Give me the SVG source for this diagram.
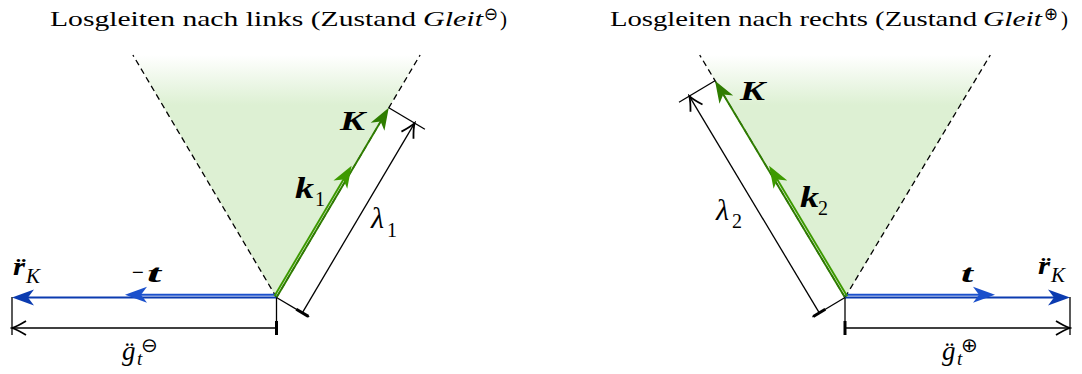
<svg xmlns="http://www.w3.org/2000/svg" width="1082" height="374" viewBox="0 0 1082 374">
<style>
.t{font-family:"Liberation Serif","Times New Roman",serif;fill:#000}
.ti{font-family:"Liberation Serif","Times New Roman",serif;font-style:italic;fill:#000}
.tb{font-family:"Liberation Serif","Times New Roman",serif;font-style:italic;font-weight:bold;fill:#000}
.sym{font-family:"DejaVu Sans",sans-serif;fill:#000}
.dash{stroke:#000;stroke-width:1.3;stroke-dasharray:6 4;fill:none}
.thin{stroke:#000;stroke-width:1.3;fill:none}
.dim{stroke:#000;stroke-width:1.3;fill:none;marker-end:url(#open)}
.bar{stroke:#000;stroke-width:3;fill:none}
.vk{stroke:#2f7d00;stroke-width:1.9;fill:none;marker-end:url(#hK)}
.vk1{stroke:#3d9a00;stroke-width:1.9;fill:none;marker-end:url(#hk)}
.vr{stroke:#0b3bb0;stroke-width:1.9;fill:none;marker-end:url(#hr)}
.vt{stroke:#1b50cc;stroke-width:1.9;fill:none;marker-end:url(#ht)}
</style>
<defs>
<linearGradient id="fade" x1="0" y1="55" x2="0" y2="105" gradientUnits="userSpaceOnUse">
<stop offset="0" stop-color="#ddf0d3" stop-opacity="0"/>
<stop offset="1" stop-color="#ddf0d3" stop-opacity="1"/>
</linearGradient>
<marker id="hK" viewBox="-24 -9 26 18" refX="-6" refY="0" markerWidth="26" markerHeight="18" markerUnits="userSpaceOnUse" orient="auto"><path d="M0,0 L-22,-8 L-16,0 L-22,8 Z" fill="#2f7d00"/></marker>
<marker id="hk" viewBox="-24 -9 26 18" refX="-6" refY="0" markerWidth="26" markerHeight="18" markerUnits="userSpaceOnUse" orient="auto"><path d="M0,0 L-22,-8 L-16,0 L-22,8 Z" fill="#3d9a00"/></marker>
<marker id="hr" viewBox="-24 -9 26 18" refX="-6" refY="0" markerWidth="26" markerHeight="18" markerUnits="userSpaceOnUse" orient="auto"><path d="M0,0 L-22,-8 L-16,0 L-22,8 Z" fill="#0b3bb0"/></marker>
<marker id="ht" viewBox="-24 -9 26 18" refX="-6" refY="0" markerWidth="26" markerHeight="18" markerUnits="userSpaceOnUse" orient="auto"><path d="M0,0 L-22,-8 L-16,0 L-22,8 Z" fill="#1b50cc"/></marker>
<marker id="open" viewBox="-17 -9 19 18" refX="0" refY="0" markerWidth="19" markerHeight="18" markerUnits="userSpaceOnUse" orient="auto"><path d="M-14,-7 Q-5,-1.5 0,0 Q-5,1.5 -14,7" fill="none" stroke="#000" stroke-width="1.8"/></marker>
</defs>
<rect width="1082" height="374" fill="#fff"/>

<g id="cone-left">
<polygon points="276.5,297.5 132.9,55 420.1,55" fill="url(#fade)"/>
<line class="dash" x1="276.5" y1="297.5" x2="132.9" y2="55"/>
<line class="dash" x1="276.5" y1="297.5" x2="420.1" y2="55"/>
</g>
<g id="cone-right">
<polygon points="845,297.5 699.7,55 990.3,55" fill="url(#fade)"/>
<line class="dash" x1="845" y1="297.5" x2="699.7" y2="55"/>
<line class="dash" x1="845" y1="297.5" x2="990.3" y2="55"/>
</g>

<g id="title-left">
<text class="t" x="50" y="26" font-size="21" textLength="366" lengthAdjust="spacingAndGlyphs">Losgleiten nach links (Zustand</text>
<text class="ti" x="423" y="26" font-size="21" textLength="60" lengthAdjust="spacingAndGlyphs">Gleit</text>
<text class="sym" x="484" y="20" font-size="18" textLength="14" lengthAdjust="spacingAndGlyphs">⊖</text>
<text class="t" x="500" y="26" font-size="21">)</text>
</g>
<g id="title-right">
<text class="t" x="610" y="26" font-size="21" textLength="367" lengthAdjust="spacingAndGlyphs">Losgleiten nach rechts (Zustand</text>
<text class="ti" x="983" y="26" font-size="21" textLength="59" lengthAdjust="spacingAndGlyphs">Gleit</text>
<text class="sym" x="1044" y="20" font-size="18" textLength="14" lengthAdjust="spacingAndGlyphs">⊕</text>
<text class="t" x="1061" y="26" font-size="21">)</text>
</g>

<g id="connectors">
<line class="vr" x1="276.5" y1="297.5" x2="18" y2="297.5"/>
<line class="vt" x1="276.5" y1="294.7" x2="131" y2="294.7"/>
<line class="vk" x1="276.5" y1="297.5" x2="385.7" y2="113"/>
<line class="vk1" x1="274.3" y1="296.2" x2="348.5" y2="170.9"/>
<line class="thin" x1="12" y1="297" x2="12" y2="335"/>
<line class="thin" x1="276.5" y1="298" x2="276.5" y2="335"/>
<line class="dim" x1="276.5" y1="328" x2="12" y2="328"/>
<line class="bar" x1="276.5" y1="321" x2="276.5" y2="335"/>
<line class="thin" x1="276.5" y1="297.5" x2="309.2" y2="316.9"/>
<line class="thin" x1="388.8" y1="107.8" x2="424.9" y2="129.2"/>
<line class="dim" x1="302.3" y1="312.8" x2="414.6" y2="123.1"/>
<line class="bar" x1="296.3" y1="309.2" x2="308.3" y2="316.4"/>
<line class="vr" x1="845" y1="297.5" x2="1064" y2="297.5"/>
<line class="vt" x1="845" y1="294.7" x2="989" y2="294.7"/>
<line class="vk" x1="845" y1="297.5" x2="718.1" y2="85.8"/>
<line class="vk1" x1="847.2" y1="296.2" x2="772.2" y2="171"/>
<line class="thin" x1="1070" y1="297" x2="1070" y2="335"/>
<line class="thin" x1="845" y1="298" x2="845" y2="335"/>
<line class="dim" x1="845" y1="328" x2="1070" y2="328"/>
<line class="bar" x1="845" y1="321" x2="845" y2="335"/>
<line class="thin" x1="845" y1="297.5" x2="812.4" y2="317"/>
<line class="thin" x1="715" y1="80.7" x2="679" y2="102.3"/>
<line class="dim" x1="819.3" y1="312.9" x2="689.3" y2="96.1"/>
<line class="bar" x1="825.3" y1="309.3" x2="813.3" y2="316.5"/>
</g>

<g id="labels-left">
<text class="tb" x="340" y="130" font-size="27" textLength="25" lengthAdjust="spacingAndGlyphs">K</text>
<text class="tb" x="295" y="198" font-size="29" textLength="19" lengthAdjust="spacingAndGlyphs">k</text>
<text class="t" x="315" y="206" font-size="20">1</text>
<text class="ti" x="371" y="228" font-size="30">λ</text>
<text class="t" x="387" y="237" font-size="20">1</text>
<text class="tb" x="13" y="275" font-size="25" textLength="12" lengthAdjust="spacingAndGlyphs">r̈</text>
<text class="ti" x="26" y="283" font-size="20" textLength="14" lengthAdjust="spacingAndGlyphs">K</text>
<text class="t" x="132" y="281" font-size="26" textLength="12" lengthAdjust="spacingAndGlyphs">−</text>
<text class="tb" x="147" y="282" font-size="26" textLength="14" lengthAdjust="spacingAndGlyphs">t</text>
<text class="ti" x="122" y="360" font-size="27">g̈</text>
<text class="ti" x="137" y="365" font-size="19">t</text>
<text class="sym" x="141" y="352" font-size="20">⊖</text>
</g>
<g id="labels-right">
<text class="tb" x="740" y="100" font-size="27" textLength="25" lengthAdjust="spacingAndGlyphs">K</text>
<text class="tb" x="800" y="207" font-size="29" textLength="19" lengthAdjust="spacingAndGlyphs">k</text>
<text class="t" x="818" y="215" font-size="20">2</text>
<text class="ti" x="716" y="220" font-size="30">λ</text>
<text class="t" x="732" y="228" font-size="20">2</text>
<text class="tb" x="961" y="282" font-size="26" textLength="12" lengthAdjust="spacingAndGlyphs">t</text>
<text class="tb" x="1038" y="274" font-size="25" textLength="12" lengthAdjust="spacingAndGlyphs">r̈</text>
<text class="ti" x="1051" y="282" font-size="20" textLength="14" lengthAdjust="spacingAndGlyphs">K</text>
<text class="ti" x="942" y="360" font-size="27">g̈</text>
<text class="ti" x="957" y="365" font-size="19">t</text>
<text class="sym" x="961" y="352" font-size="20">⊕</text>
</g>
</svg>
